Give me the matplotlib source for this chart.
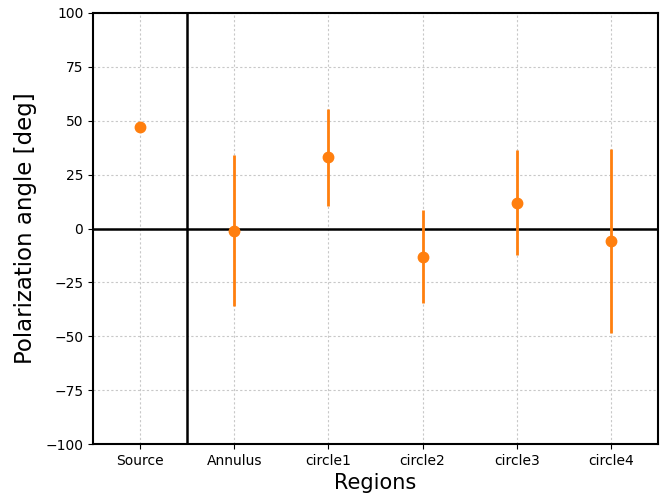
import matplotlib
matplotlib.use("Agg")
import matplotlib.pyplot as plt

regions = ["Source", "Annulus", "circle1", "circle2", "circle3", "circle4"]
angles = [47.3, -1.0, 33.0, -13.0, 12.0, -5.8]
errors = [1.0, 35.0, 22.5, 21.7, 24.3, 42.8]

fig = plt.figure(figsize=(6.6, 5.0), dpi=100)
ax = fig.add_axes([0.141, 0.112, 0.856, 0.862])

x = list(range(len(regions)))
ax.errorbar(x, angles, yerr=errors, fmt="o", color="#ff7f0e", ecolor="#ff7f0e",
            elinewidth=2, markersize=7.5, capsize=0, zorder=3)

ax.axhline(0, color="black", linewidth=1.8, zorder=2)
ax.axvline(0.5, color="black", linewidth=1.8, zorder=2)

ax.set_xlim(-0.5, 5.5)
ax.set_ylim(-100, 100)
ax.set_yticks(range(-100, 101, 25))
ax.set_xticks(x)
ax.set_xticklabels(regions)
ax.tick_params(labelsize=10)
ax.grid(True, linestyle=(0, (2, 2)), color="#c8c8c8", linewidth=0.8, zorder=0)
for s in ax.spines.values():
    s.set_linewidth(1.5)

ax.set_xlabel("Regions", fontsize=15)
ax.set_ylabel("Polarization angle [deg]", fontsize=16.5, labelpad=6)

fig.savefig("out.png", dpi=100)
